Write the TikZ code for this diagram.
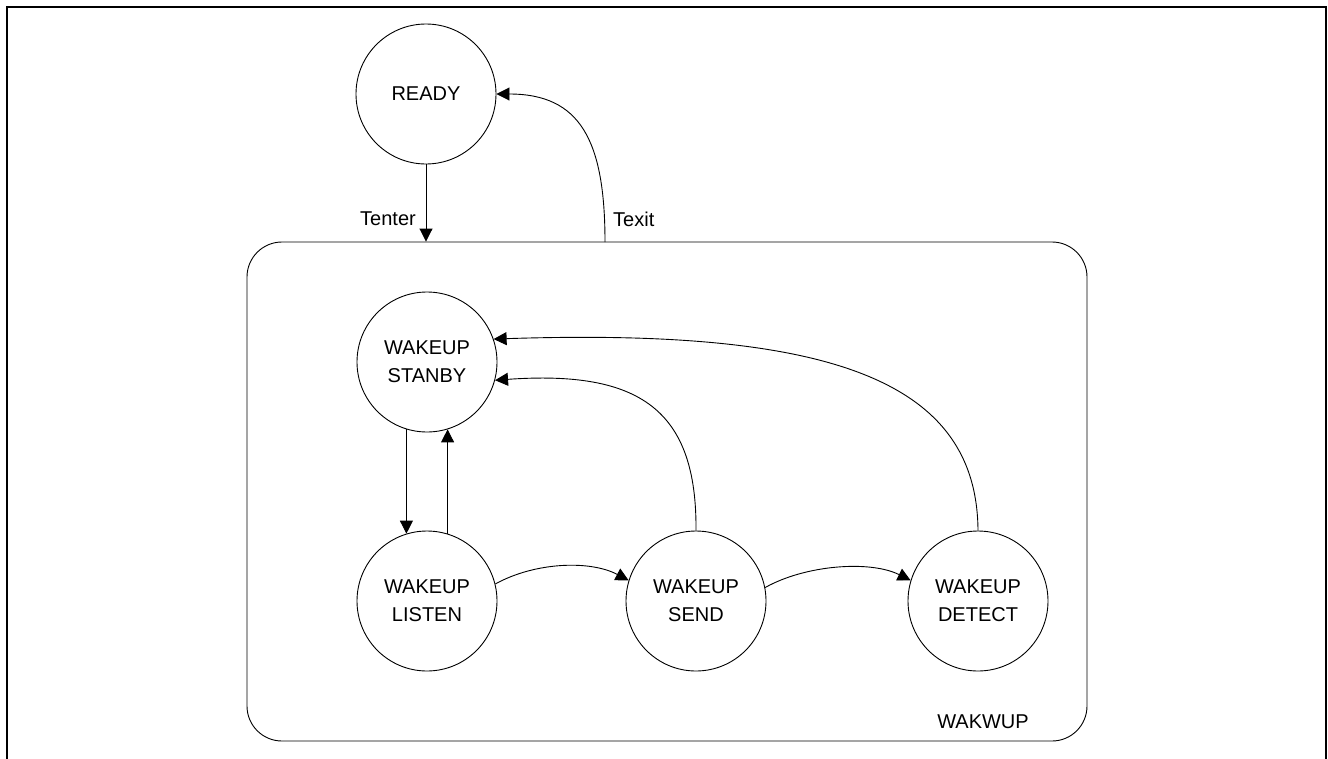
\documentclass[tikz,border=0pt]{standalone}
\usepackage{fontspec}
\setmainfont{Liberation Sans}
\usetikzlibrary{arrows.meta}
\begin{document}
\begin{tikzpicture}[x=1pt,y=-1pt,
  state/.style={circle,draw,line width=0.9pt,minimum size=140pt,inner sep=0pt,align=center,font=\fontsize{20}{28}\selectfont},
  lbl/.style={font=\fontsize{20}{24}\selectfont,inner sep=0pt},
  conn/.style={line width=0.9pt,-{Triangle[length=13pt,width=13pt]}}]
\useasboundingbox (0,0) rectangle (1328,758);
\draw[line width=2.6pt] (7,760) -- (7,7) -- (1326,7) -- (1326,760);
\node[draw,line width=0.9pt,rounded corners=35pt,minimum width=840pt,minimum height=499pt,inner sep=0pt] (wk) at (667,491.5) {};
\node[lbl] (wkl) at (983,722) {WAKWUP};
\node[state] (ready) at (426,94) {READY};
\node[state] (stanby) at (427,362) {WAKEUP\\STANBY};
\node[state] (listen) at (427,601) {WAKEUP\\LISTEN};
\node[state] (send) at (696,601) {WAKEUP\\SEND};
\node[state] (detect) at (978,601) {WAKEUP\\DETECT};
\node[lbl,anchor=east] (tenter) at (416,219) {Tenter};
\node[lbl,anchor=west] (texit) at (613,219) {Texit};
\coordinate (exitpt) at (605,242);
\draw[conn] (ready.south) -- (ready.south |- wk.north);
\draw[conn] (exitpt) .. controls (605,140) and (580,94) .. (ready.east);
\draw[conn] (stanby.253) -- (listen.107);
\draw[conn] (listen.73) -- (stanby.287);
\draw[conn] (listen.14) .. controls (535,562) and (590,560) .. (send.163);
\draw[conn] (send.11) .. controls (805,565) and (870,560) .. (detect.163);
\draw[conn] (send.north) .. controls (697,410) and (640,370) .. (stanby.345);
\draw[conn] (detect.north) .. controls (977,380) and (830,328) .. (stanby.19);
\end{tikzpicture}
\end{document}
